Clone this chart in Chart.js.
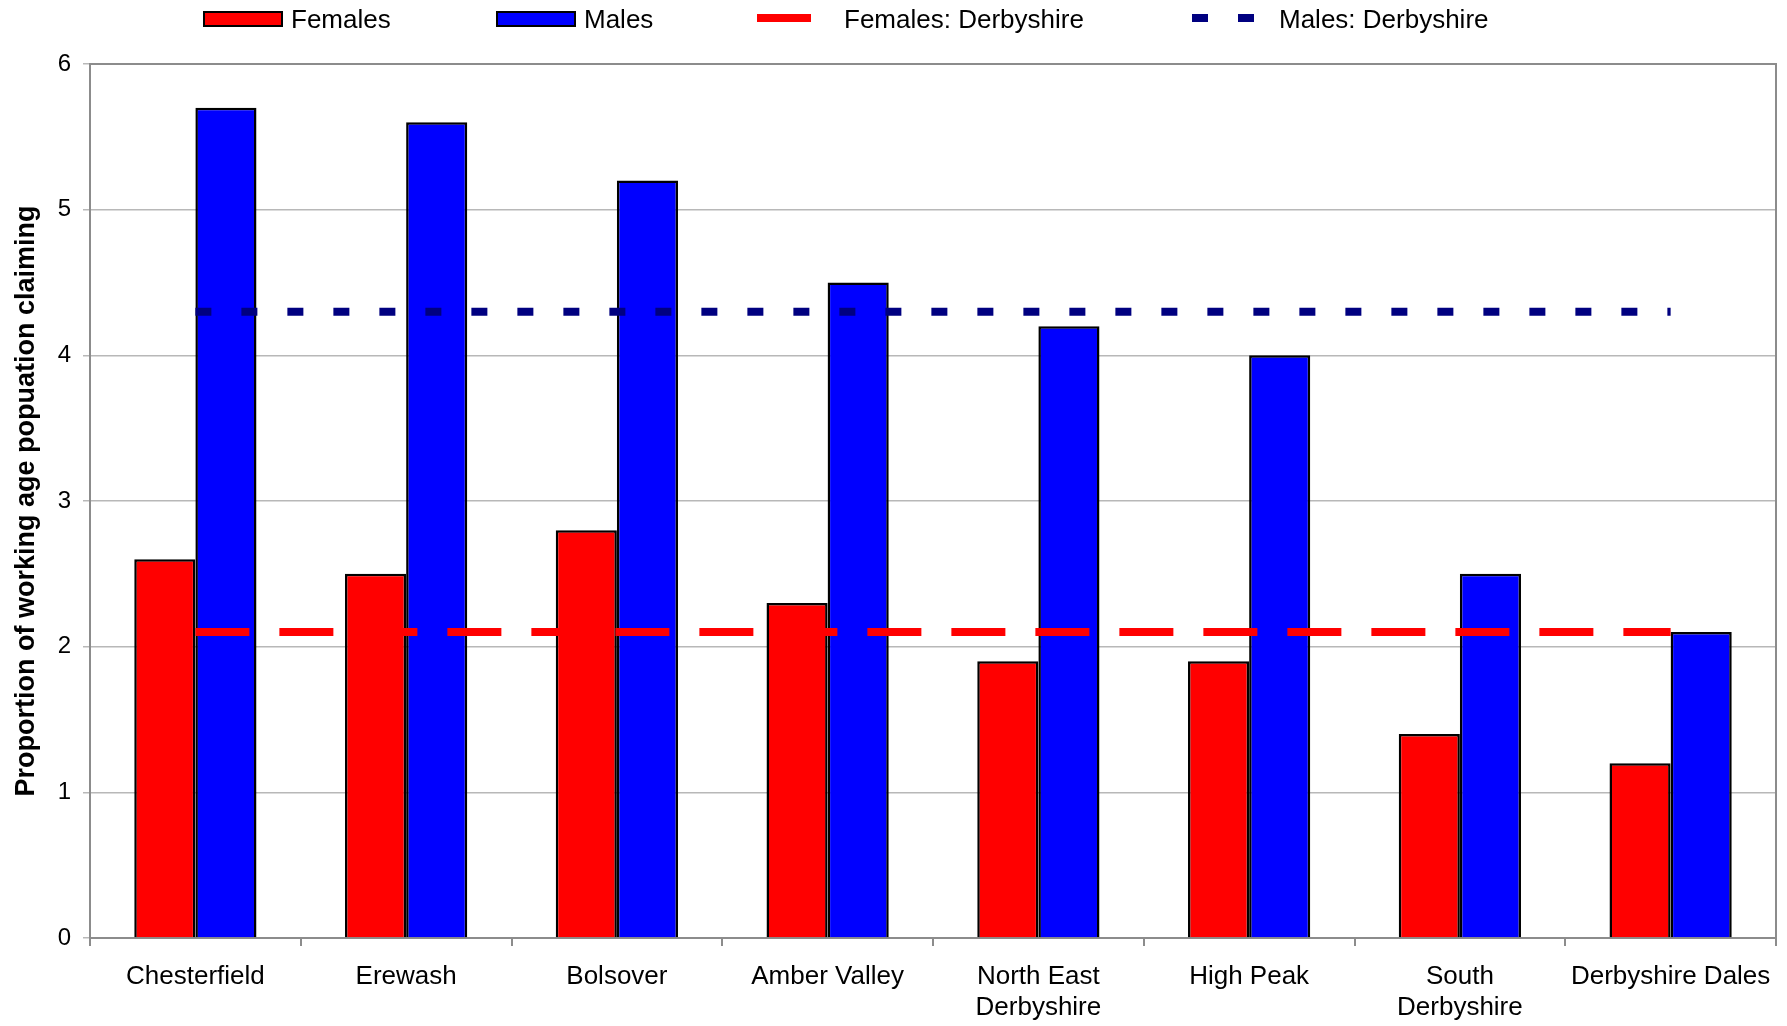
<!DOCTYPE html>
<html>
<head>
<meta charset="utf-8">
<script src="https://cdn.jsdelivr.net/npm/chart.js@4/dist/chart.umd.min.js"></script>
<style>
  html, body { margin: 0; padding: 0; background: #ffffff; }
  canvas { display: block; }
</style>
</head>
<body>
<canvas id="claimants" width="1787" height="1026" style="width:1787px;height:1026px"></canvas>
<script>
// District names (multi-line where the label wraps)
const districts = [
  ['Chesterfield'],
  ['Erewash'],
  ['Bolsover'],
  ['Amber Valley'],
  ['North East', 'Derbyshire'],
  ['High Peak'],
  ['South', 'Derbyshire'],
  ['Derbyshire Dales']
];

// Proportion of working age population claiming, by district
const females = [2.6, 2.5, 2.8, 2.3, 1.9, 1.9, 1.4, 1.2];
const males   = [5.7, 5.6, 5.2, 4.5, 4.2, 4.0, 2.5, 2.1];

// County-wide averages, repeated across every district
const femalesDerbyshire = [2.1, 2.1, 2.1, 2.1, 2.1, 2.1, 2.1, 2.1];
const malesDerbyshire   = [4.3, 4.3, 4.3, 4.3, 4.3, 4.3, 4.3, 4.3];

const yTicks = [0, 1, 2, 3, 4, 5, 6];

const FONT = '"Liberation Sans", Arial, Helvetica, sans-serif';
const AXIS_GREY = '#8c8c8c';
const GRID_GREY = '#b8b8b8';

// Legend drawn across the top, one slot per dataset
const legendSlots = [
  { x: 203,  w: 80, textX: 291 },
  { x: 496,  w: 80, textX: 584 },
  { x: 757,  w: 54, textX: 844 },
  { x: 1192, w: 62, textX: 1279 }
];

const topLegend = {
  id: 'topLegend',
  afterDraw(chart) {
    const ctx = chart.ctx;
    const cy = 18;
    chart.data.datasets.forEach((ds, i) => {
      const s = legendSlots[i];
      ctx.save();
      if (ds.type === 'line') {
        ctx.strokeStyle = ds.borderColor;
        ctx.lineWidth = 8;
        ctx.lineCap = 'butt';
        ctx.setLineDash(ds.borderDash || []);
        ctx.beginPath();
        ctx.moveTo(s.x, cy);
        ctx.lineTo(s.x + s.w, cy);
        ctx.stroke();
      } else {
        ctx.fillStyle = ds.backgroundColor;
        ctx.fillRect(s.x, 11, s.w, 16);
        ctx.strokeStyle = '#000000';
        ctx.lineWidth = 2;
        ctx.strokeRect(s.x + 1, 12, s.w - 2, 14);
      }
      ctx.fillStyle = '#000000';
      ctx.font = '26px ' + FONT;
      ctx.textBaseline = 'alphabetic';
      ctx.textAlign = 'left';
      ctx.fillText(ds.label, s.textX, 28);
      ctx.restore();
    });
  }
};

// Grey frame on the top and right of the plot area
const plotFrame = {
  id: 'plotFrame',
  beforeDatasetsDraw(chart) {
    const { ctx, chartArea: a } = chart;
    ctx.save();
    ctx.strokeStyle = AXIS_GREY;
    ctx.lineWidth = 2;
    ctx.beginPath();
    ctx.moveTo(a.left, a.top);
    ctx.lineTo(a.right, a.top);
    ctx.lineTo(a.right, a.bottom);
    ctx.stroke();
    ctx.restore();
  }
};

new Chart(document.getElementById('claimants'), {
  type: 'bar',
  data: {
    labels: districts,
    datasets: [
      {
        label: 'Females',
        data: females,
        backgroundColor: '#ff0000',
        borderColor: '#000000',
        borderWidth: 2.5,
        order: 1
      },
      {
        label: 'Males',
        data: males,
        backgroundColor: '#0000ff',
        borderColor: '#000000',
        borderWidth: 2.5,
        order: 1
      },
      {
        type: 'line',
        label: 'Females: Derbyshire',
        data: femalesDerbyshire,
        borderColor: '#ff0000',
        backgroundColor: '#ff0000',
        borderWidth: 8,
        borderDash: [54, 30],
        borderCapStyle: 'butt',
        pointRadius: 0,
        fill: false,
        tension: 0,
        order: 0
      },
      {
        type: 'line',
        label: 'Males: Derbyshire',
        data: malesDerbyshire,
        borderColor: '#000080',
        backgroundColor: '#000080',
        borderWidth: 8,
        borderDash: [16, 30],
        borderCapStyle: 'butt',
        pointRadius: 0,
        fill: false,
        tension: 0,
        order: 0
      }
    ]
  },
  options: {
    responsive: false,
    devicePixelRatio: 1,
    animation: false,
    layout: { padding: { top: 64, right: 11, bottom: 0, left: 0 } },
    datasets: {
      bar: { categoryPercentage: 0.58, barPercentage: 1.0 }
    },
    plugins: {
      legend: { display: false },
      tooltip: { enabled: false },
      title: { display: false }
    },
    scales: {
      x: {
        offset: true,
        grid: {
          display: true,
          offset: true,
          drawOnChartArea: false,
          drawTicks: true,
          tickLength: 8,
          color: AXIS_GREY,
          lineWidth: 2
        },
        border: { display: true, color: AXIS_GREY, width: 2 },
        ticks: {
          autoSkip: false,
          maxRotation: 0,
          minRotation: 0,
          padding: 15,
          color: '#000000',
          font: { family: FONT, size: 26, lineHeight: 1.2 }
        },
        afterFit(scale) { scale.height = 88; }
      },
      y: {
        min: 0,
        max: 6,
        afterBuildTicks(scale) { scale.ticks = yTicks.map(v => ({ value: v })); },
        grid: {
          color: GRID_GREY,
          lineWidth: 1.5,
          drawTicks: true,
          tickLength: 7
        },
        border: { display: true, color: AXIS_GREY, width: 2 },
        ticks: {
          padding: 12,
          color: '#000000',
          font: { family: FONT, size: 24 }
        },
        title: {
          display: true,
          text: 'Proportion of working age popuation claiming',
          color: '#000000',
          font: { family: FONT, size: 27, weight: 'bold' },
          padding: { top: 10, bottom: 0 }
        },
        afterFit(scale) { scale.width = 90; }
      }
    }
  },
  plugins: [plotFrame, topLegend]
});
</script>
</body>
</html>
